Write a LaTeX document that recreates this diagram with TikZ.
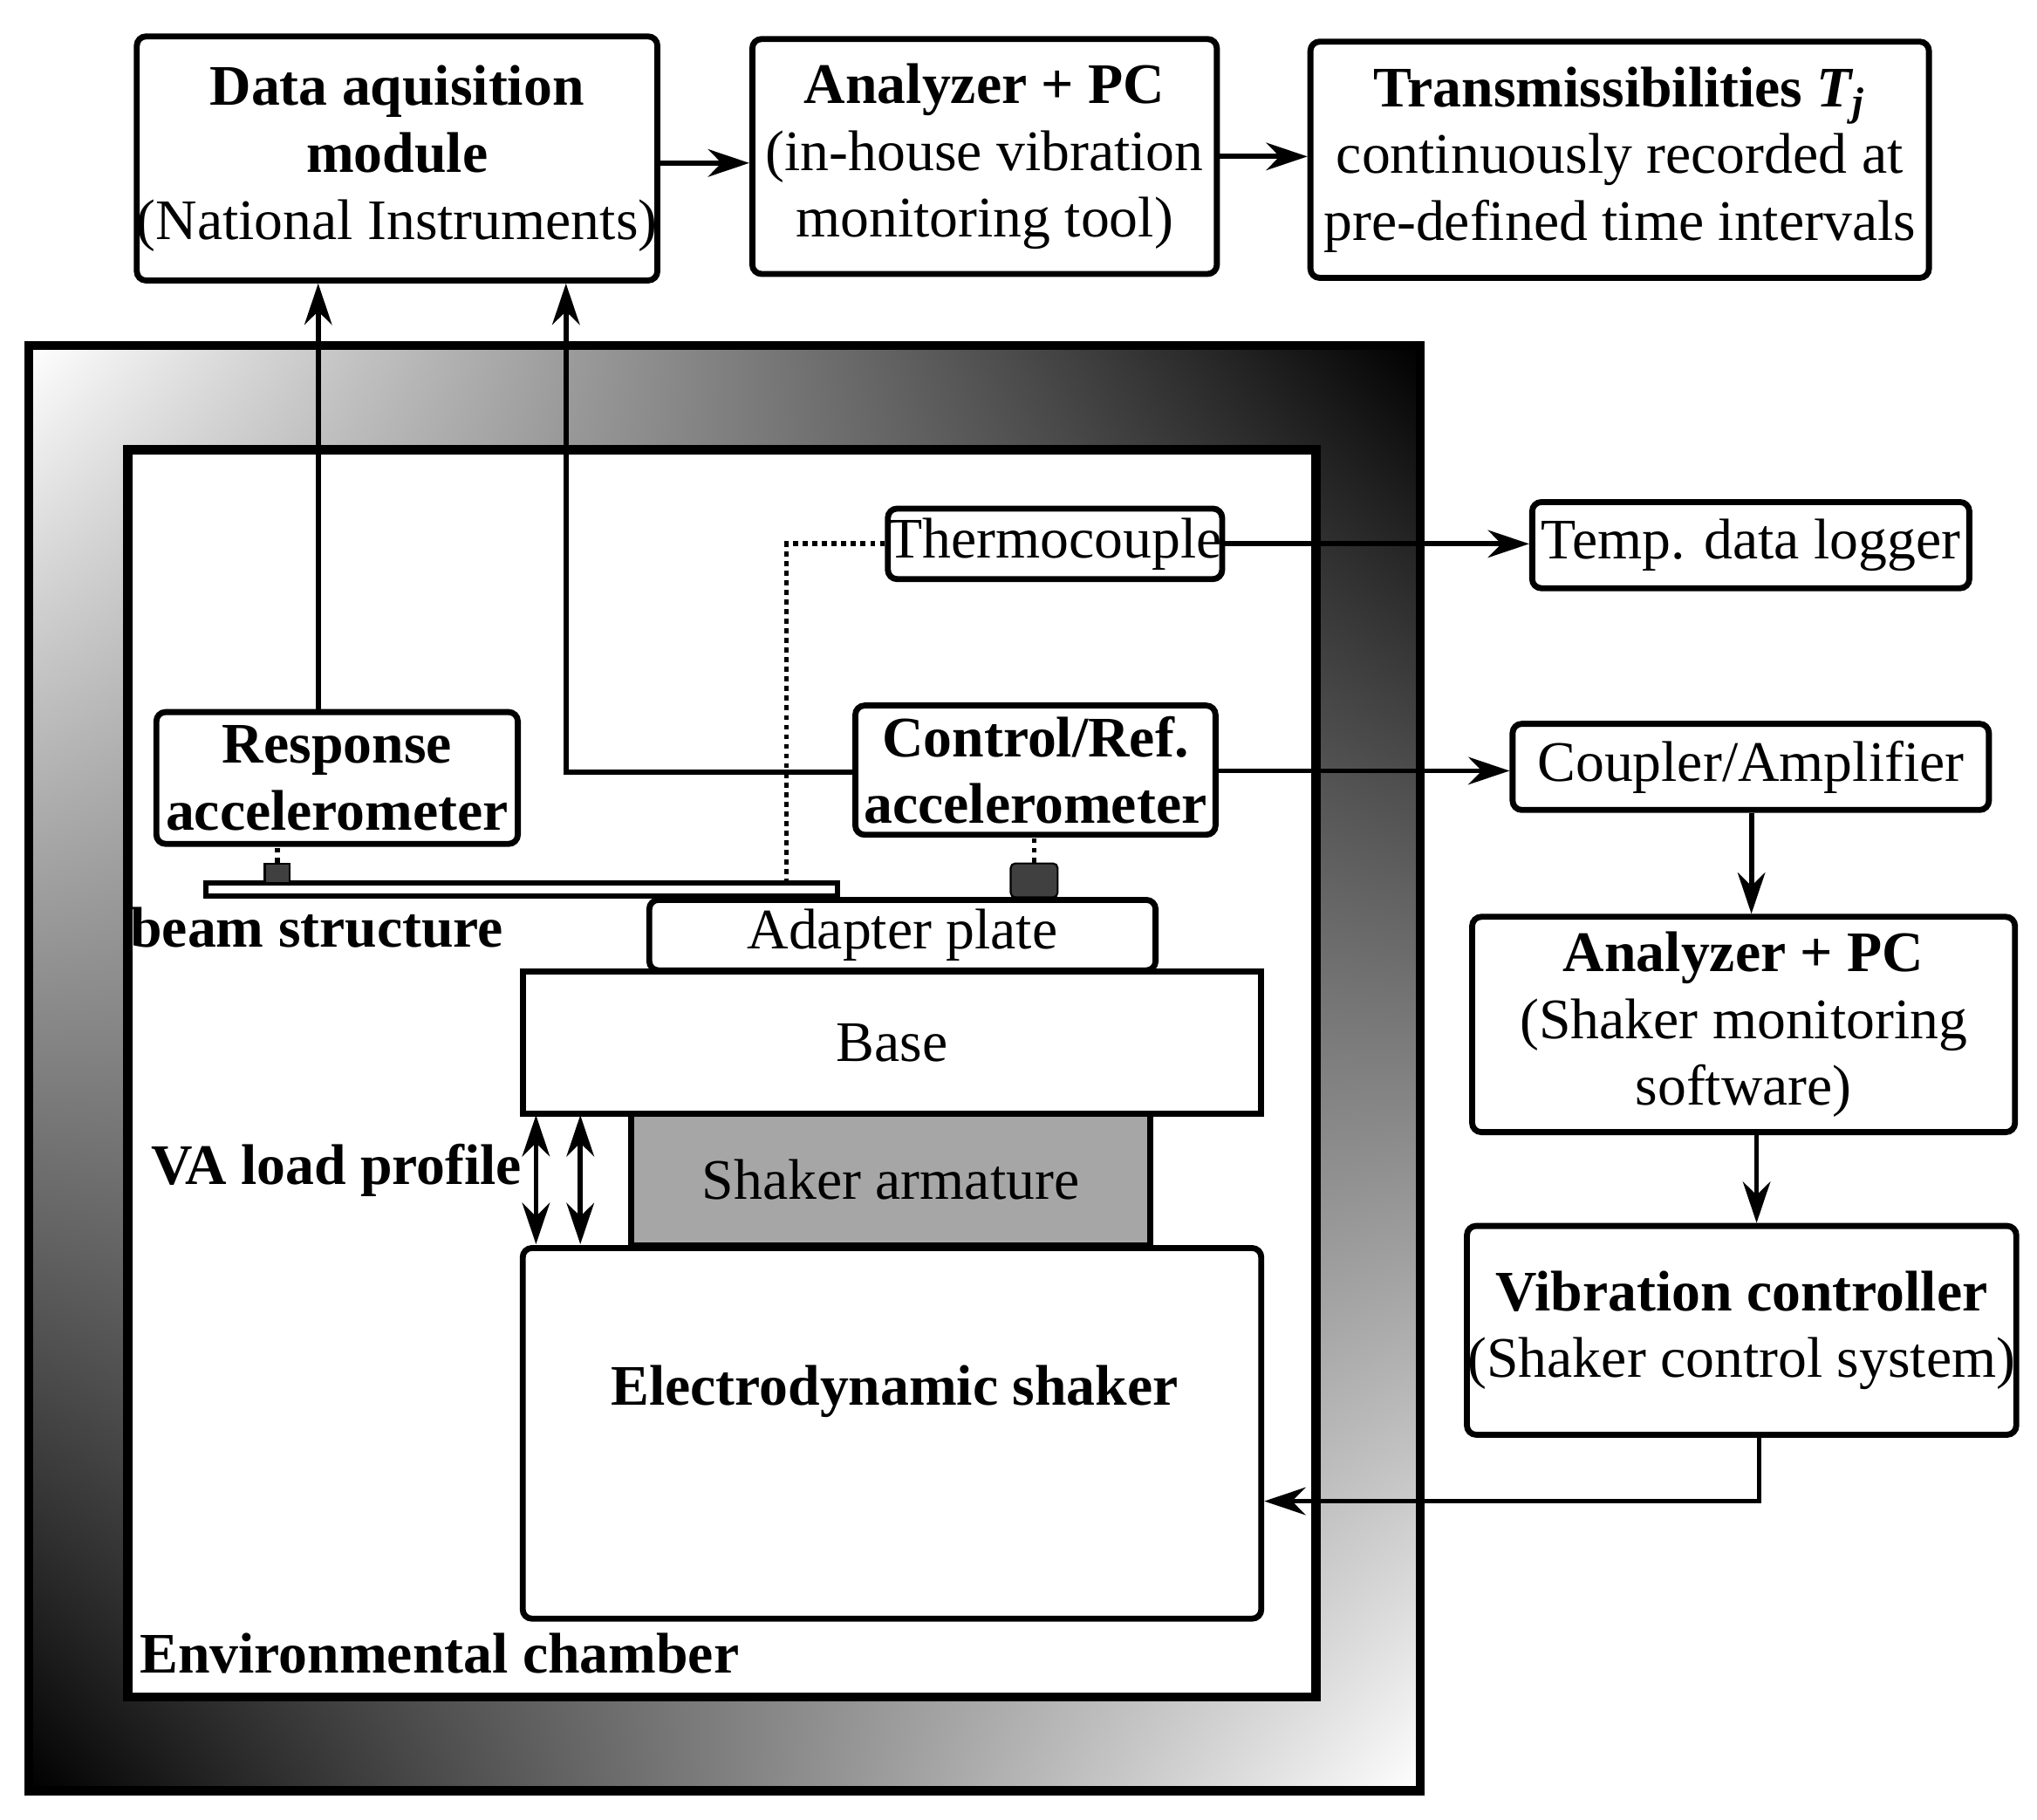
\documentclass[tikz,border=0pt]{standalone}
\usepackage{fontspec}
\setmainfont{Liberation Serif}
\usetikzlibrary{arrows.meta,shadings}
\begin{document}
\begin{tikzpicture}[x=0.01cm,y=-0.01cm,
  box/.style={draw,line width=1.3pt,rounded corners=2pt,align=center,inner sep=0pt,font=\fontsize{12.5}{14.6}\selectfont},
  arr/.style={line width=1.1pt,-{Stealth[length=9pt,width=6pt]}},
  ln/.style={line width=1.1pt},
  lbl/.style={font=\bfseries\fontsize{12.5}{14.6}\selectfont}]
\useasboundingbox (0,0) rectangle (1562,1395);
% chamber
\shade[upper left=white,upper right=black,lower left=black,lower right=white] (22,265) rectangle (1089,1373);
\draw[line width=2pt] (22,265) rectangle (1089,1373);
\fill[white] (98,345) rectangle (1009,1301);
\draw[line width=2pt] (98,345) rectangle (1009,1301);
% top boxes
\node[box,minimum width=3.91cm,minimum height=1.87cm] (daq) at (304.5,121.5) {\textbf{Data aquisition}\\\textbf{module}\\(National Instruments)};
\node[box,minimum width=3.56cm,minimum height=1.80cm] (anT) at (755,120) {\textbf{Analyzer + PC}\\(in-house vibration\\monitoring tool)};
\node[box,minimum width=4.74cm,minimum height=1.81cm] (tr) at (1242,122.5) {\textbf{Transmissibilities \textit{T\textsubscript{j}}}\\continuously recorded at\\pre-defined time intervals};
\node[box,minimum width=2.56cm,minimum height=0.54cm] (th) at (809,417) {Thermocouple};
\node[box,minimum width=3.35cm,minimum height=0.66cm] (tl) at (1342.5,418) {Temp. data logger};
\node[box,minimum width=2.77cm,minimum height=1.01cm] (resp) at (258.5,596.5) {\textbf{Response}\\\textbf{accelerometer}};
\node[box,minimum width=2.76cm,minimum height=0.99cm] (ctrl) at (794,590.5) {\textbf{Control/Ref.}\\\textbf{accelerometer}};
\node[box,minimum width=3.65cm,minimum height=0.66cm] (cp) at (1342.5,588) {Coupler/Amplifier};
\node[box,minimum width=4.16cm,minimum height=1.65cm] (anR) at (1337,785.5) {\textbf{Analyzer + PC}\\(Shaker monitoring\\software)};
\node[box,minimum width=4.21cm,minimum height=1.60cm] (vib) at (1335.5,1020) {\textbf{Vibration controller}\\(Shaker control system)};
% structure
\node[draw,line width=1pt,fill=white,minimum width=4.84cm,minimum height=0.10cm,inner sep=0pt] (beam) at (400,682) {};
\node[fill=black!75,draw=black,minimum width=0.19cm,minimum height=0.15cm,inner sep=0pt] (s1) at (212.5,669.5) {};
\node[fill=black!75,draw=black,rounded corners=1pt,minimum width=0.36cm,minimum height=0.26cm,inner sep=0pt] (s2) at (793,675) {};
\node[box,fill=white,minimum width=3.88cm,minimum height=0.54cm] (ad) at (692,717) {Adapter plate};
\node[box,fill=white,rounded corners=0pt,minimum width=5.66cm,minimum height=1.09cm] (base) at (684,799.5) {Base};
\node[box,fill=black!35,rounded corners=0pt,minimum width=3.98cm,minimum height=1.01cm] (arm) at (683,904.5) {Shaker armature};
\node[box,fill=white,minimum width=5.66cm,minimum height=2.84cm] (sh) at (684,1099) {};
\node[lbl] (shl) at (686,1067) {Electrodynamic shaker};
\node[lbl] (bl) at (243,711) {beam structure};
\node[lbl] (va) at (258,897) {VA load profile};
\node[lbl] (ec) at (337,1268) {Environmental chamber};
% connectors
\draw[arr] (daq.east |- 0,125) -- (anT.west |- 0,125);
\draw[arr] (anT.east |- 0,120) -- (tr.west |- 0,120);
\draw[arr] (th.east) -- (tl.west |- th.east);
\draw[arr] (244,546) -- (daq.south -| 244,0);
\draw[arr] (ctrl.west |- 0,592) -- (434,592) -- (daq.south -| 434,0);
\draw[arr] (ctrl.east |- 0,591) -- (cp.west |- 0,591);
\draw[arr] (cp.south -| 1343,0) -- (anR.north -| 1343,0);
\draw[arr] (anR.south -| 1347,0) -- (vib.north -| 1347,0);
\draw[arr] (vib.south -| 1349,0) -- (1349,1151) -- (sh.east |- 0,1151);
\draw[ln,densely dotted] (th.west) -- (603,417) -- (beam.north -| 603,0);
\draw[ln,densely dotted] (s1.north) -- (resp.south -| s1.north);
\draw[ln,densely dotted] (s2.north) -- (ctrl.south -| s2.north);
\draw[line width=1.1pt,{Stealth[length=9pt,width=6pt]}-{Stealth[length=9pt,width=6pt]}] (411,855) -- (411,954);
\draw[line width=1.1pt,{Stealth[length=9pt,width=6pt]}-{Stealth[length=9pt,width=6pt]}] (445,855) -- (445,954);
\end{tikzpicture}
\end{document}
